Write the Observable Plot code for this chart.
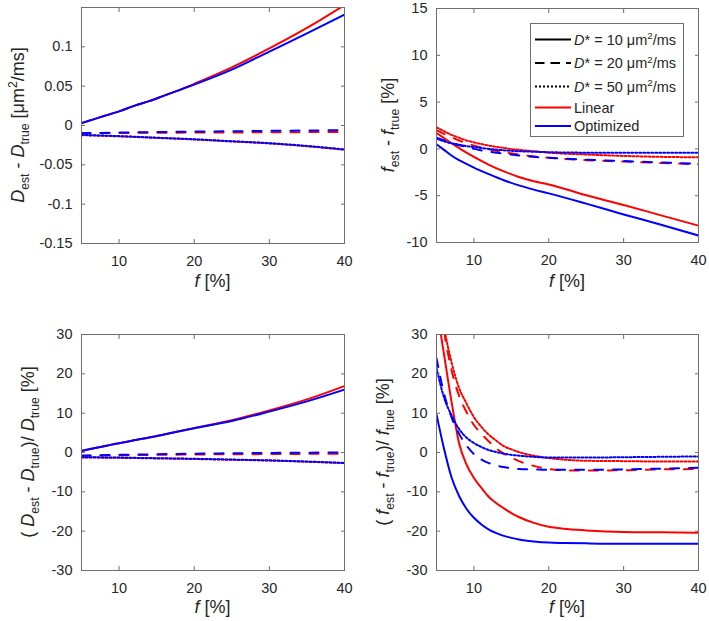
<!DOCTYPE html>
<html><head><meta charset="utf-8">
<script src="https://cdn.jsdelivr.net/npm/d3@7"></script>
<script src="https://cdn.jsdelivr.net/npm/@observablehq/plot@0.6"></script>
<style>
body{margin:0;background:#fff}
#wrap{position:relative;width:709px;height:621px;background:#fff}
#wrap svg{position:absolute}
</style>
</head><body><div id="wrap"></div>
<script>
// ---------- data ----------
const xTicks = [10, 20, 30, 40];
const fGrid = [5,6,7,8,9,10,12,14,16,18,20,25,30,35,40];
const fStep5 = [5,10,15,20,25,30,35,40];
const fFine = [5,6,7,8,9,10,11,12,13,14,15,16,18,20,22,25,30,35,40];

// Panel A: D_est - D_true [um2/ms]
const yTicksA = [-0.15,-0.1,-0.05,0,0.05,0.1];
const dD_lin_10 = [0.003,0.006,0.009,0.012,0.015,0.018,0.025,0.031,0.038,0.045,0.053,0.074,0.098,0.124,0.153];
const dD_opt_10 = [0.003,0.006,0.009,0.012,0.015,0.018,0.025,0.031,0.038,0.045,0.052,0.071,0.094,0.117,0.141];
const dD_lin_20 = [-0.0098,-0.0095,-0.0092,-0.009,-0.0088,-0.0086,-0.0084,-0.0082];
const dD_opt_20 = [-0.0098,-0.009,-0.0083,-0.0078,-0.0073,-0.0068,-0.0064,-0.006];
const dD_lin_50 = [-0.0123,-0.0138,-0.0158,-0.0178,-0.0203,-0.0228,-0.0263,-0.0308];
const dD_opt_50 = [-0.012,-0.0135,-0.0155,-0.0175,-0.02,-0.0225,-0.026,-0.0305];

// Panel B: f_est - f_true [%]
const yTicksB = [-10,-5,0,5,10,15];
const df_lin_10 = [1.7,1.15,0.6,0.1,-0.4,-0.85,-1.7,-2.4,-3.0,-3.45,-3.8,-4.95,-6.0,-7.1,-8.2];
const df_opt_10 = [0.5,-0.1,-0.7,-1.2,-1.6,-2.0,-2.7,-3.35,-3.9,-4.35,-4.75,-5.85,-7.0,-8.1,-9.25];
const df_lin_20 = [2.0,1.6,1.25,0.9,0.6,0.35,-0.05,-0.35,-0.6,-0.8,-0.95,-1.2,-1.35,-1.5,-1.65];
const df_opt_20 = [1.2,0.9,0.6,0.4,0.2,0.0,-0.3,-0.5,-0.7,-0.85,-0.95,-1.15,-1.3,-1.45,-1.6];
const df_lin_50 = [2.3,1.9,1.5,1.2,0.9,0.7,0.35,0.1,-0.1,-0.25,-0.4,-0.6,-0.75,-0.85,-0.9];
const df_opt_50 = [1.1,0.8,0.6,0.45,0.3,0.2,0.0,-0.15,-0.25,-0.3,-0.35,-0.4,-0.4,-0.4,-0.4];

// Panel C: (D_est - D_true)/D_true [%]
const yTicksC = [-30,-20,-10,0,10,20,30];
const dDrel_lin_10 = [0.4,0.8,1.2,1.6,2.0,2.35,3.1,3.8,4.6,5.4,6.2,8.2,10.7,13.5,16.9];
const dDrel_opt_10 = [0.4,0.8,1.2,1.6,2.0,2.35,3.1,3.8,4.6,5.4,6.15,8.0,10.4,13.0,16.0];
const dDrel_lin_20 = [-0.8,-0.7,-0.6,-0.5,-0.45,-0.4,-0.35,-0.3];
const dDrel_opt_20 = [-0.8,-0.6,-0.45,-0.3,-0.2,-0.1,-0.05,0.05];
const dDrel_lin_50 = [-1.25,-1.35,-1.5,-1.65,-1.85,-2.05,-2.35,-2.7];
const dDrel_opt_50 = [-1.2,-1.3,-1.45,-1.6,-1.8,-2.0,-2.3,-2.65];

// Panel D: (f_est - f_true)/f_true [%]
const yTicksD = [-30,-20,-10,0,10,20,30];
const dfrel_lin_10 = [37,25,13,2.5,-3,-6.5,-9,-11.3,-12.9,-14.2,-15.4,-16.4,-17.9,-18.9,-19.4,-19.8,-20.2,-20.3,-20.4];
const dfrel_opt_10 = [9.7,1.0,-6.3,-11.0,-14.3,-16.6,-18.3,-19.6,-20.5,-21.2,-21.7,-22.1,-22.6,-22.9,-23.0,-23.1,-23.2,-23.2,-23.2];
const dfrel_lin_20 = [45,31,21,14.5,10.3,7,4.8,2.8,1.0,-0.3,-1.3,-2.2,-3.4,-4.2,-4.5,-4.6,-4.5,-4.3,-4.2];
const dfrel_opt_20 = [24,15,9.0,4.8,1.8,-0.4,-1.8,-2.7,-3.3,-3.7,-4.0,-4.2,-4.3,-4.4,-4.4,-4.4,-4.3,-4.1,-3.9];
const dfrel_lin_50 = [45,32,23,16.5,12.5,9,6.5,4.5,3.0,1.6,0.8,0.1,-0.8,-1.4,-1.8,-2.1,-2.2,-2.3,-2.3];
const dfrel_opt_50 = [21.5,14,9.5,6,3.8,2.4,1.4,0.6,0.1,-0.3,-0.6,-0.8,-1.1,-1.3,-1.3,-1.3,-1.2,-1.1,-1.0];

const legendDstar = ["10", "20", "50"];
const legendMethods = ["Linear", "Optimized"];

// ---------- style ----------
const FONT = "'Liberation Sans', Arial, Helvetica, sans-serif";
const TXT = "#262626";
const AX = "#6e6e6e";
const COLOR = {Linear: "#ff0000", Optimized: "#0000ff"};
const DASH = {"10": undefined, "20": "9,10", "50": "2,2"};
const fmt = d => String(d);
const none = () => "";

function rows(fs, vs) { return fs.map((f, i) => ({f, v: vs[i]})); }

function makePanel(cfg) {
  const lines = cfg.series.map(s => Plot.line(rows(s.f, s.v), {
    x: "f", y: "v", stroke: COLOR[s.method], strokeWidth: 2,
    strokeDasharray: DASH[s.dstar], curve: "monotone-x", clip: true
  }));
  const svg = Plot.plot({
    width: cfg.width, height: cfg.height,
    marginLeft: cfg.mL, marginRight: cfg.mR, marginTop: cfg.mT, marginBottom: cfg.mB,
    x: {domain: [5, 40]},
    y: {domain: cfg.yDomain},
    style: {fontFamily: FONT, fontSize: "14.5px", color: TXT, background: "transparent", overflow: "visible"},
    marks: [
      ...lines,
      Plot.frame({stroke: AX}),
      Plot.axisX({ticks: xTicks, tickSize: 0, tickPadding: 12, tickFormat: fmt, label: null}),
      Plot.axisX({ticks: xTicks, tickSize: -4, tickFormat: none, label: null, stroke: AX}),
      Plot.axisX({anchor: "top", ticks: xTicks, tickSize: -4, tickFormat: none, label: null, stroke: AX}),
      Plot.axisY({ticks: cfg.yTicks, tickSize: 0, tickPadding: 9, tickFormat: fmt, label: null}),
      Plot.axisY({ticks: cfg.yTicks, tickSize: -4, tickFormat: none, label: null, stroke: AX}),
      Plot.axisY({anchor: "right", ticks: cfg.yTicks, tickSize: -4, tickFormat: none, label: null, stroke: AX})
    ]
  });
  svg.style.left = cfg.left + "px";
  svg.style.top = cfg.top + "px";
  document.getElementById("wrap").appendChild(svg);
  return d3.select(svg);
}

function rich(sel, {x, y, rotate = false, size = 18, anchor = "middle", parts}) {
  const t = sel.append("text")
    .attr("transform", `translate(${x},${y})` + (rotate ? " rotate(-90)" : ""))
    .attr("text-anchor", anchor).attr("font-size", size).attr("font-family", FONT)
    .attr("fill", TXT).style("white-space", "pre");
  let shift = 0;
  for (const p of parts) {
    const target = p.sub ? size * 0.3 : p.sup ? -size * 0.38 : 0;
    const ts = t.append("tspan").text(p.t).attr("dy", target - shift);
    shift = target;
    if (p.i) ts.attr("font-style", "italic");
    if (p.sub || p.sup) ts.attr("font-size", size * 0.68);
  }
  return t;
}

function series(fA, lin10, opt10, fB, lin20, opt20, lin50, opt50) {
  return [
    {method: "Linear", dstar: "10", f: fA, v: lin10},
    {method: "Linear", dstar: "20", f: fB, v: lin20},
    {method: "Linear", dstar: "50", f: fB, v: lin50},
    {method: "Optimized", dstar: "10", f: fA, v: opt10},
    {method: "Optimized", dstar: "20", f: fB, v: opt20},
    {method: "Optimized", dstar: "50", f: fB, v: opt50}
  ];
}

const fLabel = [{t: "f", i: true}, {t: " [%]"}];

// Panel A
const pA = makePanel({left: 0, top: 0, width: 354, height: 310, mL: 81, mR: 10, mT: 7, mB: 67,
  yDomain: [-0.15, 0.15], yTicks: yTicksA,
  series: series(fGrid, dD_lin_10, dD_opt_10, fStep5, dD_lin_20, dD_opt_20, dD_lin_50, dD_opt_50)});
rich(pA, {x: 24, y: 125, rotate: true, parts: [
  {t: "D", i: true}, {t: "est", sub: true}, {t: " - "}, {t: "D", i: true}, {t: "true", sub: true},
  {t: " [μm"}, {t: "2", sup: true}, {t: "/ms]"}]});
rich(pA, {x: 212.5, y: 287, parts: fLabel});

// Panel B
const pB = makePanel({left: 354, top: 0, width: 355, height: 310, mL: 82, mR: 11, mT: 8, mB: 68,
  yDomain: [-10, 15], yTicks: yTicksB,
  series: series(fGrid, df_lin_10, df_opt_10, fGrid, df_lin_20, df_opt_20, df_lin_50, df_opt_50)});
rich(pB, {x: 40, y: 125, rotate: true, parts: [
  {t: "f", i: true}, {t: "est", sub: true}, {t: " - "}, {t: "f", i: true}, {t: "true", sub: true}, {t: " [%]"}]});
rich(pB, {x: 213, y: 287, parts: fLabel});

// Legend in panel B
const lg = pB.append("g");
lg.append("rect").attr("x", 176.5).attr("y", 23.5).attr("width", 153).attr("height", 113)
  .attr("fill", "#fff").attr("stroke", AX).attr("stroke-width", 1);
const rowY = [39.5, 63, 86.5, 107.5, 126];
legendDstar.forEach((d, i) => {
  lg.append("line").attr("x1", 181).attr("x2", 217).attr("y1", rowY[i]).attr("y2", rowY[i])
    .attr("stroke", "#000").attr("stroke-width", 2).attr("stroke-dasharray", d === "20" ? "9.5,6" : DASH[d] || null);
  rich(lg, {x: 220, y: rowY[i] + 5, size: 14.5, anchor: "start", parts: [
    {t: "D", i: true}, {t: `* = ${d} μm`}, {t: "2", sup: true}, {t: "/ms"}]});
});
legendMethods.forEach((m, j) => {
  const y = rowY[3 + j];
  lg.append("line").attr("x1", 181).attr("x2", 217).attr("y1", y).attr("y2", y)
    .attr("stroke", COLOR[m]).attr("stroke-width", 2);
  rich(lg, {x: 220, y: y + 5, size: 14.5, anchor: "start", parts: [{t: m}]});
});

// Panel C
const pC = makePanel({left: 0, top: 310, width: 354, height: 311, mL: 81, mR: 10, mT: 24, mB: 51,
  yDomain: [-30, 30], yTicks: yTicksC,
  series: series(fGrid, dDrel_lin_10, dDrel_opt_10, fStep5, dDrel_lin_20, dDrel_opt_20, dDrel_lin_50, dDrel_opt_50)});
rich(pC, {x: 34, y: 142, rotate: true, parts: [
  {t: "( "}, {t: "D", i: true}, {t: "est", sub: true}, {t: " - "}, {t: "D", i: true}, {t: "true", sub: true},
  {t: ")/ "}, {t: "D", i: true}, {t: "true", sub: true}, {t: " [%]"}]});
rich(pC, {x: 212.5, y: 303, parts: fLabel});

// Panel D
const pD = makePanel({left: 354, top: 310, width: 355, height: 311, mL: 82, mR: 11, mT: 24, mB: 51,
  yDomain: [-30, 30], yTicks: yTicksD,
  series: series(fFine, dfrel_lin_10, dfrel_opt_10, fFine, dfrel_lin_20, dfrel_opt_20, dfrel_lin_50, dfrel_opt_50)});
rich(pD, {x: 35, y: 142, rotate: true, parts: [
  {t: "( "}, {t: "f", i: true}, {t: "est", sub: true}, {t: " - "}, {t: "f", i: true}, {t: "true", sub: true},
  {t: ")/ "}, {t: "f", i: true}, {t: "true", sub: true}, {t: " [%]"}]});
rich(pD, {x: 213, y: 303, parts: fLabel});
</script>
</body></html>
